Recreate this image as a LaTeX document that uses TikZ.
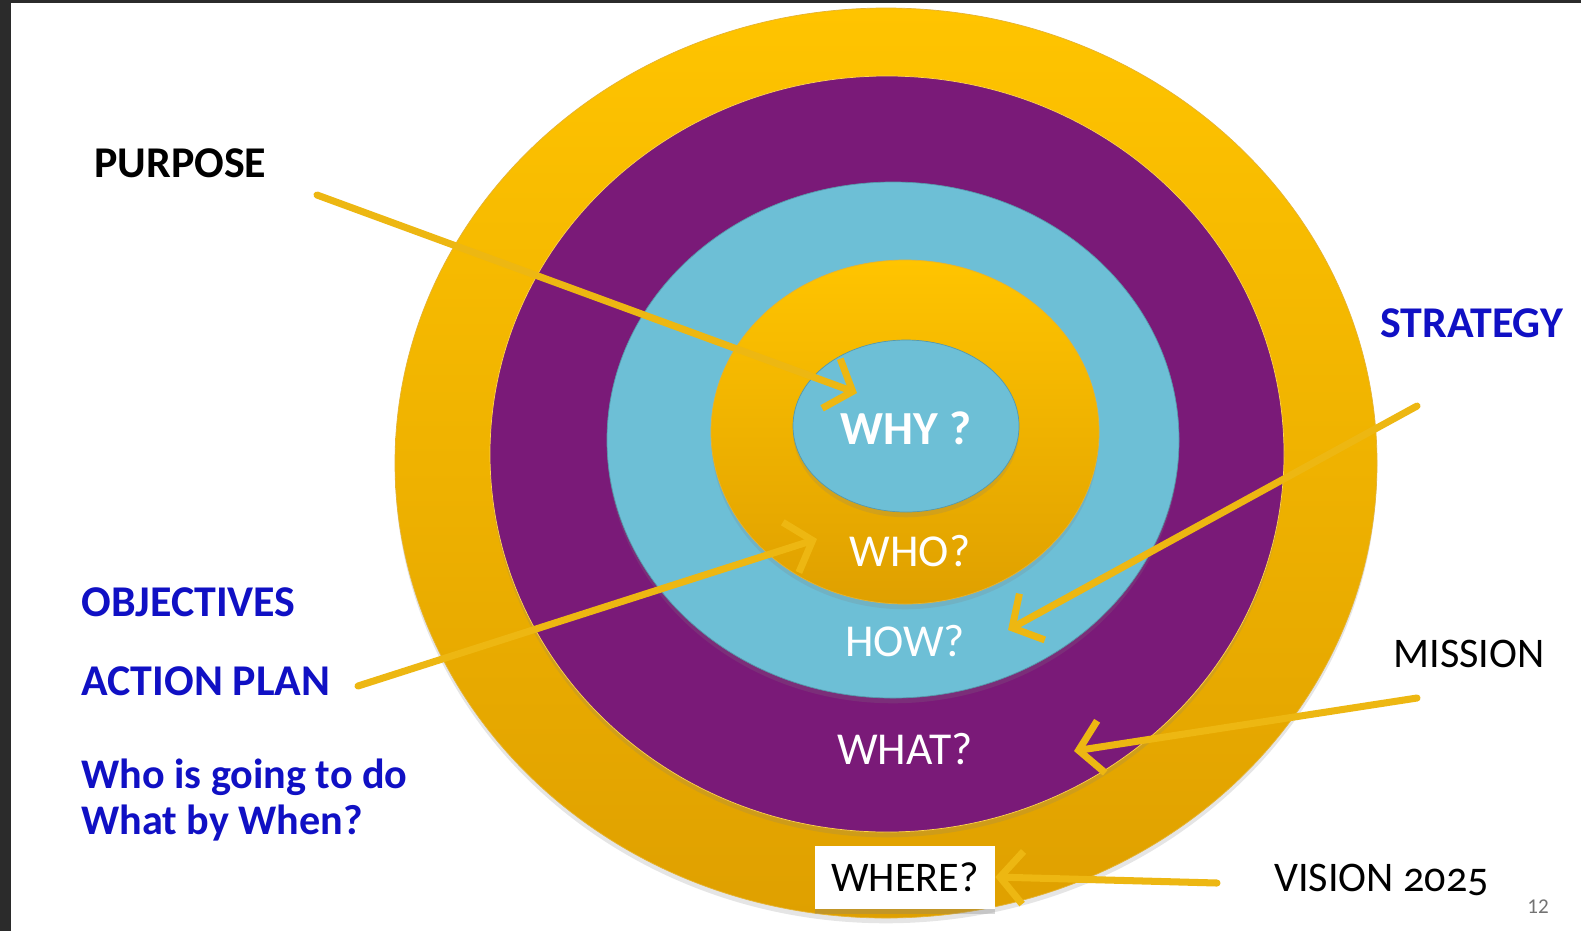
\documentclass[tikz,border=0pt]{standalone}
\usepackage{fontspec}
\setmainfont{Carlito}
\usetikzlibrary{arrows.meta,shadows}

\definecolor{goldtop}{HTML}{FFC400}
\definecolor{goldbot}{HTML}{DFA000}
\definecolor{ringpurple}{HTML}{7A1A78}
\definecolor{ringblue}{HTML}{6DBFD6}
\definecolor{labelblue}{HTML}{1010C4}
\definecolor{arrowgold}{HTML}{EDB712}
\definecolor{frame}{HTML}{2B2B2B}

\begin{document}
\begin{tikzpicture}[
    x=0.02cm, y=-0.02cm,
    % Define styles
    goldring/.style={
        top color=goldtop,
        bottom color=goldbot,
        draw=goldbot!80!white,
        thin,
        drop shadow={opacity=0.2, shadow xshift=0pt, shadow yshift=-3pt}
    },
    purplering/.style={
        fill=ringpurple,
        draw=goldtop!70!white,
        thin,
        drop shadow={opacity=0.2, shadow xshift=0pt, shadow yshift=-3pt}
    },
    bluering/.style={
        fill=ringblue,
        draw=ringblue!80!black,
        thin,
        drop shadow={opacity=0.2, shadow xshift=0pt, shadow yshift=-3pt}
    },
    ringtext/.style={
        text=white,
        font=\fontsize{26}{30}\selectfont
    },
    sidetext/.style={
        anchor=west,
        inner sep=0pt,
        text=labelblue,
        font=\fontsize{25}{26}\selectfont\bfseries
    },
    blacktext/.style={
        anchor=west,
        inner sep=0pt,
        font=\fontsize{24}{26}\selectfont
    },
    arrow/.style={
        arrowgold,
        line width=4pt,
        line cap=round,
        -{Straight Barb[length=13pt, width=30pt, line width=4pt]}
    }
]

% Page and frame
\useasboundingbox (0,0) rectangle (1581,931);
\fill[white] (0,0) rectangle (1581,931);
\fill[frame] (0,0) rectangle (11,931);
\fill[frame] (0,0) rectangle (1581,3);

% Rings, from outside in
\path[goldring] (886,463) ellipse [x radius=491, y radius=455];
\path[purplering] (887,454) ellipse [x radius=397, y radius=378];
\path[bluering] (893,440) ellipse [x radius=286, y radius=258];
\path[goldring] (905,432) ellipse [x radius=194, y radius=172];
\path[bluering] (906,426) ellipse [x radius=113, y radius=86];

% Ring texts
\node[ringtext, font=\fontsize{27}{30}\selectfont\bfseries] (why) at (906,428) {WHY ?};
\node[ringtext] (who) at (910,551) {WHO?};
\node[ringtext] (how) at (905,641) {HOW?};
\node[ringtext] (what) at (905,749) {WHAT?};
\node[fill=white, inner sep=0pt, minimum width=3.6cm, minimum height=1.26cm, font=\fontsize{24}{30}\selectfont,
    drop shadow={opacity=0.3, shadow xshift=0pt, shadow yshift=-3pt}] (where) at (905,877) {WHERE?};

% Side texts
\node[blacktext, font=\fontsize{25}{26}\selectfont\bfseries] (purpose) at (94,163) {PURPOSE};
\node[sidetext] (strategy) at (1380,323) {STRATEGY};
\node[sidetext] (objectives) at (81,602) {OBJECTIVES};
\node[sidetext] (actionplan) at (81,681) {ACTION PLAN};
\node[sidetext, align=left, font=\fontsize{24}{26}\selectfont\bfseries] (whowhat) at (81,800) {Who is going to do\\What by When?};
\node[blacktext] (mission) at (1393,654) {MISSION};
\node[blacktext, font=\fontsize{24}{26}\selectfont\addfontfeatures{Numbers=OldStyle}] (vision) at (1274,880) {VISION 2025};
\node[text=black!55, font=\fontsize{12}{14}\selectfont] (page) at (1538,907) {12};

% Arrow tails
\coordinate (purposetail) at (317,195);
\coordinate (plantail) at (358,686);
\coordinate (strategytail) at (1417,406);
\coordinate (missiontail) at (1417,698);
\coordinate (visiontail) at (1217,883);

% Arrow tips
\coordinate (purposetip) at (857,393);
\coordinate (plantip) at (817,539);
\coordinate (strategytip) at (1008,630);
\coordinate (missiontip) at (1074,751);

% Arrows
\draw[arrow] (purposetail) -- (purposetip);
\draw[arrow] (plantail) -- (plantip);
\draw[arrow] (strategytail) -- (strategytip);
\draw[arrow] (missiontail) -- (missiontip);
\draw[arrow] (visiontail) -- (where.east);
\end{tikzpicture}
\end{document}
